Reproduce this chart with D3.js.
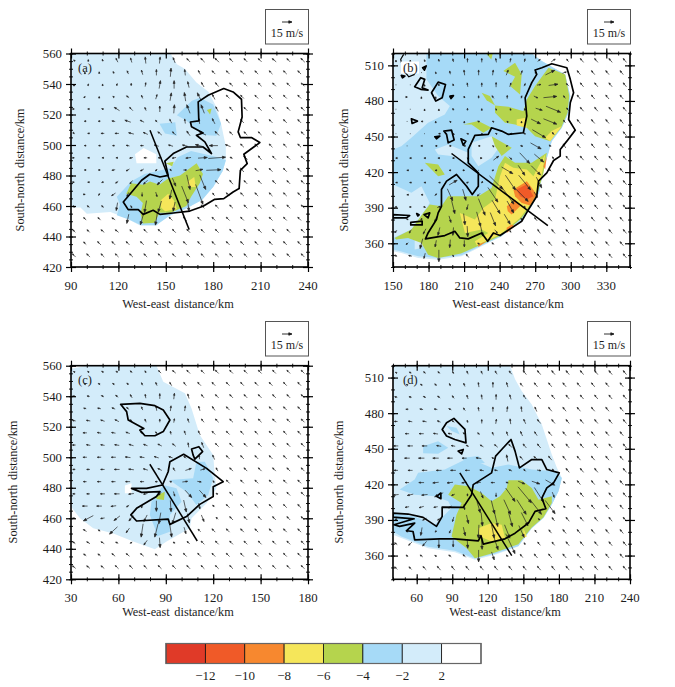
<!DOCTYPE html>
<html>
<head>
<meta charset="utf-8">
<script src="https://cdn.jsdelivr.net/npm/d3@7"></script>
<style>
body { margin: 0; background: #fff; }
text { font-family: "Liberation Serif", serif; fill: #1c1c1c; }
</style>
</head>
<body>
<div id="chart"></div>
<script>
// shading levels (m/s), band 0 is the strongest
var levelLabels = ['\u221212', '\u221210', '\u22128', '\u22126', '\u22124', '\u22122', '2'];
var levelColors = ['#e03a28', '#f05a28', '#f7882f', '#f5e65a', '#b5d44d', '#a6daf7', '#d3ecfa', '#ffffff'];
var keySpeed = 15;

// ---- panel a: polygons in km
var paleA = [[90,560],[153,560],[157,553],[162,550],[169.4,541],[177,535],[182,525],[185,514],[188,499],[188,490],[186,483],[180,472.5],[171.5,464],[163,458],[150.5,453],[144,447],[134,447],[125,452],[115,456],[100,455],[96,459],[90,459]];
var holeA = [[[130.5,494],[136,498],[144,494],[144,488],[131.5,488]]];
var blueA = [
  [[157,519.5],[166.5,529],[171.5,531],[180,526.5],[185,514],[182,506],[173.5,506.5],[169.5,510],[163,516]],
  [[146,514],[156,515],[157,506],[149.5,507.5]],
  [[119,466],[128,476],[136.5,481],[153,485],[157.5,492],[166,496],[183,492],[188,490],[186,483],[180,472.5],[173,464],[165,459.5],[153,454],[144,447.5],[134,447.5],[127,451],[119,454],[121,461]]
];
var greenA = [
  [[125,468],[128,475],[135.5,474],[140,476],[146,474],[151.5,478],[159,480],[169.5,488],[173.5,481],[171.5,475],[166,466],[163,460],[153,455.5],[146,455.5],[143,449],[135.5,448.5],[134,455],[135.5,462],[131.5,466]],
  [[176,523],[179,524],[178,520]],
  [[150,488],[155,489],[154,486]]
];
var yellowA = [
  [[147,464],[151.5,468],[155,464],[157,458],[149.5,456.5],[147,459]],
  [[164,476],[168,479],[169,472.5],[164,472.5]]
];
var outlineA = [
  [[123.1,462.6],[126.2,457.6],[132.6,457.6],[135.7,454.5],[142,457.2],[146.3,454.5],[154.7,455.4],[165.2,456.7],[173.6,459.8],[181,464.4],[186.7,464.8],[192.6,469.2],[196.4,471.4],[197.2,483.4],[201.5,487.8],[199.4,493.9],[209.5,501.6],[204.2,504.9],[197.2,504.9],[195.8,508.6],[198.3,518.4],[197.9,530],[192.6,534.8],[186.7,537],[176.8,532.6],[170.5,528.3],[170.9,515.8],[165.6,515.1],[166.3,511.9],[173.6,507.9],[169.4,506.4],[174.7,502],[178.9,494.4],[173.6,498.7],[163.1,498.7],[154.7,494.4],[149.4,489.5],[151.5,480.1],[146.3,479],[139.9,480.8],[134.7,476.9],[129.4,470.3]]
];
var sectionA = [[140,509.7],[164.8,444.5]];

// ---- panel b
var paleB = [[150,520],[267.1,520],[275.6,513.7],[295.3,502.4],[299.6,484.1],[298.2,470],[292.5,457.4],[284,446.1],[281.2,436.3],[277,422.2],[273.3,402.5],[267.1,391.2],[258.6,380],[241.7,365.9],[222,356],[207.9,349],[188.1,346.2],[171.2,347.6],[157,351.9],[150,353.3]];
var blueB = [
  [[178.2,520],[267.1,520],[275.6,513.7],[295.3,502.4],[299.6,484.1],[298.2,470],[292.5,457.4],[284,446.1],[281.2,436.3],[277,422.2],[273.3,402.5],[267.1,391.2],[258.6,380],[241.7,365.9],[222,356.8],[207.9,350],[188.1,347.5],[171.2,349],[157,353],[150,354.7],[150,439.1],[157,441.9],[165.5,449],[179.6,461.6],[193.7,468.6],[198,475.7],[188.1,484.1],[178.2,498.2],[178.2,509.4]]
];
var paleOverB = [
  [[185.3,439.1],[196.6,443.3],[213.5,436.3],[212.1,427.8],[199.4,433.5],[188.1,434.9]],
  [[216.3,444.7],[233.2,450.3],[241.7,443.9],[233.2,432.1],[222,425],[216.3,433.5]],
  [[150,409.5],[165.5,402.5],[174,408.1],[181,394],[175.4,385.6],[165.5,371.6],[150,364.5]],
  [[168.3,364.5],[178.2,363.1],[174,356],[168.3,354.7]]
];
var greenB = [
  [[151.4,364.5],[165.5,371.6],[175.4,385.6],[181,392.7],[190.9,391.2],[196.6,399.7],[210.7,399.7],[222,399.7],[233.2,406.7],[238.9,425],[244.5,433.5],[253,427.8],[267.1,427.8],[279.8,436.3],[277,419.4],[272.2,403.1],[266.5,391.8],[258.1,380.6],[241.2,366.5],[221.4,357.5],[207.3,351.3],[188.1,347.6],[179.6,350.4],[174,360.3],[162.7,364.5],[152.8,363.1]],
  [[262.9,481.3],[269.9,492.6],[281.2,508],[295.3,502.4],[298.7,484.1],[297.3,470],[291.9,457.4],[282.6,446.1],[269.9,450.3],[262.9,457.4],[253,460.2],[244.5,461.6],[236.1,470],[236.1,476.2],[247.4,475.1],[260,471.4]],
  [[243.1,505.2],[253,512.3],[258.6,502.4],[257.2,485.5],[248.8,492.6],[253,500.4]],
  [[209.3,460.2],[222,463],[233.2,457.4],[226.2,453.2],[216.3,460.2]],
  [[233.2,450.3],[250.2,440.5],[241.7,433.5],[236.1,441.9]],
  [[176.8,427.8],[188.1,426.4],[193.7,418],[188.1,416.6],[182.5,422.2]],
  [[228.7,520],[234.2,520],[232.9,515]],
  [[224.8,486.9],[231.8,484.1],[236.1,476.2],[229,480.5]]
];
var yellowB = [
  [[206.4,385.6],[219.1,380],[226.2,389.8],[236.1,396.9],[240.3,416.6],[244.5,427.8],[251.6,423.6],[262.9,422.2],[268.5,416.6],[272.8,425],[278.4,434.9],[276.1,420.8],[271.3,403.1],[265.7,392.7],[257.2,381.4],[240.3,367.3],[220.6,358.3],[219.1,361.7],[230.4,368.7],[224.8,371.6],[210.7,368.7]],
  [[284,454.6],[292.5,458.8],[282.6,446.1],[278.4,448.9]],
  [[254.4,464.4],[261.5,465.8],[262.9,457.4],[254.4,459.4]]
];
var orangeB = [
  [[251.6,405.3],[262.9,412.4],[271.3,401.1],[265.7,391.8],[258.6,394],[253,399.7]],
  [[246,391.2],[253,396.9],[257.2,391.2],[250.2,384.2],[246.9,387]],
  [[245.9,373],[250.2,375.8],[253,374.4],[245.9,368.7]],
  [[222,358.9],[229,361.7],[222,356.9]],
  [[277,425],[279.8,433.5],[278.4,422.2]]
];
var deepB = [[[254.4,405.3],[262.9,409.7],[268.5,399.7],[262.9,396.9],[257.2,399.7]]];
var outlineB = [
  [[177.4,363.7],[193.7,366.5],[202.2,370.1],[206.4,364.5],[213.5,363.7],[224.8,368.7],[229.9,361.7],[234.7,368.7],[240.3,366.5],[250.2,373],[258.6,378.6],[264.3,388.4],[271.3,399.7],[272.8,412.4],[279.8,419.4],[285.5,429.8],[291.1,433.5],[291.1,439.1],[296.7,446.1],[303.8,455.4],[298.2,464.4],[299.6,478.5],[302.4,486.9],[299.6,498.2],[296.7,508],[284,511.4],[275.6,508],[269.9,506.1],[271.3,502.4],[267.1,495.4],[261.5,482.7],[262.9,467.2],[260,453.2],[247.4,451.8],[241.7,454.6],[233.2,457.4],[230.4,451.8],[219.1,450.9],[213.5,439.1],[213.5,427.8],[222,419.4],[222,408.1],[216.9,401.1],[212.1,408.1],[203.6,418],[195.2,412.4],[190.9,405.3],[190.9,391.2],[188.1,385.6],[186.7,380],[179.6,368.7]],
  [[182.5,486.9],[188.1,495.9],[194.3,493.9],[191.5,482.7],[186.1,479.9]],
  [[168.3,492],[173.4,499.6],[176.8,498.2],[174.6,491.1],[179.6,489.2],[173.4,489.8]],
  [[165.5,465],[170.6,463],[166.1,461]],
  [[185.3,449.8],[189.5,450.3],[186.7,448.1]],
  [[192.9,454.6],[199.4,455.4],[201.6,447],[196.6,444.7],[195.2,451.8]],
  [[207.3,448.1],[211.5,446.1],[209.3,442.7]],
  [[150,384.2],[164.1,383.4],[161.4,381.4],[150,381.4]],
  [[165,377.7],[174.6,378.6],[174.6,375.5],[165,375.5]],
  [[176.2,384.2],[181,385.6],[179.6,381.4]],
  [[157,501.5],[160,501],[158,499.5]],
  [[175,508],[178,509.5],[176.5,506]],
  [[198,484],[201,484.5],[199,482]],
  [[170,385],[172,384],[171,383]]
];
var openB = [[[159,519.3],[156.5,515.1],[158.5,506.6],[163.3,500.4],[168.3,502.4]]];
var sectionB = [[199.4,435.7],[280.7,374.9]];

// ---- panel c
var paleC = [[30,558],[40,560],[84.1,560],[88.4,549.5],[102.1,541.9],[106.3,532],[111.5,514.6],[120,501.5],[121,488.4],[122.1,479.6],[115.8,469.8],[106.3,460],[105.2,453.4],[90.5,444.7],[83.1,439.7],[69.4,444.7],[56.8,450.1],[44.1,453.4],[35.7,460],[30,467.6]];
var holeC = [[[64.1,481.4],[68.3,482.9],[68.3,476.4],[64.1,476.4]]];
var blueC = [
  [[92.6,485.1],[107.3,486.2],[109.4,497.1],[114.7,497.1],[120,486.2],[116.8,475.3],[109.4,468.7],[103.1,477.4],[96.8,481.8]],
  [[88.4,481.8],[96.8,479.6],[100,470.9],[92.6,462.2],[92.6,451.2],[84.2,448],[83.1,453.4],[79.9,462.2],[80.9,470.9]]
];
var greenC = [[[83.7,474.8],[89.4,477.4],[88.8,472],[84.2,472.6]]];
var outlineC = [
  [[68.3,479.6],[74.7,477],[86.3,477.4],[84.1,474.2],[71.5,466.5],[67.9,462.2],[71.5,458.2],[91.5,459.5],[92.6,456],[103.1,461.1],[111.5,469.1],[120,474.2],[120,480.7],[126.3,484],[115.8,492.7],[101.3,501.9],[92.6,497.1],[91.5,490.5],[87.9,481.8],[77.8,479.6]],
  [[61.4,534.7],[73.6,535.3],[83.1,533.8],[88.4,531],[92.6,524.4],[88.4,516.8],[83.1,514.1],[76.8,514.1],[73.6,517.8],[76.1,518.9],[66.2,524.4],[65.2,529.9]],
  [[106.3,505.4],[110.9,506.9],[113.3,503.7],[108.4,498.8],[107.3,501.4]]
];
var sectionC = [[79.9,495.4],[109.9,445.1]];

// ---- panel d
var paleD = [[40,520],[138.8,520],[143,508.6],[148.6,498.7],[157.1,487.4],[165.6,470.5],[174,445.2],[178.3,433.9],[182.5,425.4],[179.7,414.2],[174,402.9],[167,391.6],[157.1,383.1],[145.8,367.6],[126.1,360.6],[109.1,356.4],[92.2,362.8],[69.6,366.2],[47,374.7],[40,377.5]];
var blueD = [
  [[45.6,415.6],[58.3,424],[61.2,429.7],[83.7,432.5],[103.5,442.3],[123.2,433.9],[137.4,436.7],[157.1,432.5],[176.9,431.1],[182.5,425.4],[179.7,414.2],[174,402.9],[167,391.6],[157.1,383.1],[145.8,368],[126.1,361.5],[109.1,357.5],[92.2,364],[69.6,367.5],[47,376],[40,380.3],[40,395.8],[58.3,393],[75.3,386],[83.7,394.4],[89.4,400],[86.6,405.7],[75.3,409.9],[58.3,411.3]],
  [[65.4,452.2],[78.1,456.4],[86.6,450.8],[78.1,445.7],[65.4,446.3]],
  [[85.2,469.1],[93.6,467.7],[96.4,462.1],[89.4,464.9]],
  [[97.9,442.3],[112,443.8],[117.6,438.1],[103.5,436.7]]
];
var greenD = [[[92.2,419.8],[103.5,418.4],[114.8,412.7],[123.2,405.7],[130.3,409.9],[136,417],[137.4,423.5],[148.6,423.5],[157.1,417],[162.8,407.1],[174,409.9],[174,404.3],[167,392.2],[157.1,383.7],[145.8,369.6],[126.1,362.6],[109.1,357.8],[102.1,366.2],[89.4,376.1],[93.6,394.4],[97.9,404.3],[86.6,411.3]]];
var yellowD = [
  [[112,383.1],[123.2,387.4],[131.7,386],[134.5,374.7],[123.2,371.9],[113.4,376.1]],
  [[150,383.1],[152.9,376.1],[150,374.7]]
];
var outlineD = [
  [[40,395.8],[52.7,395],[65.4,392.2],[76.7,384.6],[81.5,393],[81.5,400.9],[99.3,400.6],[106.3,411.3],[107.7,419.8],[123.2,429.7],[126.6,443.8],[131.7,449.4],[139.6,457.8],[143,448],[146.7,433.9],[157.1,440.9],[165.6,440.9],[169.8,432.5],[180.3,429.7],[175.5,421.2],[169.8,417],[165.6,408.5],[169,399.5],[159.9,397.2],[154.3,387.4],[143,378.9],[134.5,374.1],[116.2,369.6],[114.2,376.9],[112,372.4],[92.2,374.1],[79.5,374.1],[58.3,373.3],[56.9,380.3],[51.3,380.9],[58.3,387.4],[45.6,384.6],[40.8,386],[57.8,391],[40,392.4]],
  [[81.5,466.3],[85.2,471.9],[91.4,475.6],[100.7,466.3],[101.6,455],[92.2,457.8],[85.2,460.7]],
  [[95,448],[99.3,449.4],[97.9,445.7]],
  [[76.7,409.9],[80.4,412.7],[80.4,407.9]]
];
var sectionD = [[96.4,429.7],[140.2,360]];

// ---- wind components in m/s, rows from the top, rows are staggered
var windA_u = [
  [-1,0,-1,-3,-2,-1,1,-3,-5,-6,-6,-5,-5,-5,-6,-5,-6],
  [0,0,-1,-2,-2,0,1,-1,-3,-5,-5,-5,-5,-5,-5,-5],
  [0,1,0,1,0,1,2,0,-2,-4,-5,-5,-5,-5,-5,-5,-5],
  [1,0,-2,-4,-2,2,2,-2,-6,-4,-5,-5,-5,-5,-5,-5],
  [1,-2,-3,-8,-5,-2,0,1,-5,-5,-4,-5,-5,-5,-5,-5,-5],
  [-2,-3,-5,-9,-6,-3,-3,-1,-1,-4,-5,-5,-5,-5,-5,-5],
  [1,-2,-5,-6,-8,-7,-6,-5,-5,-10,-6,-5,-5,-5,-5,-5,-5],
  [-2,-2,-3,-5,-5,-7,-7,-8,-12,-13,-8,-5,-5,-5,-5,-5],
  [1,-2,-2,-3,-5,-5,-5,-6,-8,14,26,-4,-6,-5,-5,-5,-5],
  [-2,-3,-5,-5,-5,-3,2,5,11,22,-4,-5,-5,-5,-5,-5],
  [1,-2,-3,-4,-4,-6,-8,5,5,9,-5,-5,-5,-5,-5,-5,-5],
  [1,-2,-6,-3,0,2,-3,10,11,-3,-5,-5,-5,-5,-5,-5],
  [-2,-3,-3,-2,2,-3,-5,-3,2,-5,-5,-5,-5,-5,-5,-5,-5],
  [-4,-4,-5,-3,-5,-3,-5,-5,-5,-5,-5,-5,-5,-5,-5,-5],
  [-4,-4,-5,-5,-4,-5,-5,-5,-5,-5,-5,-5,-5,-5,-5,-5,-5],
  [-4,-5,-5,-5,-5,-5,-5,-5,-5,-5,-5,-5,-5,-5,-5,-5],
  [-5,-5,-5,-5,-5,-5,-5,-5,-5,-5,-5,-5,-5,-5,-5,-5,-5]
];
var windA_v = [
  [1,2,3,6,7,10,10,8,5,6,6,5,5,5,5,5,6],
  [1,2,3,5,7,9,13,9,6,5,5,5,5,5,5,5],
  [1,2,2,3,4,6,12,12,9,7,6,5,5,5,5,5,5],
  [1,1,2,3,5,7,12,13,12,8,5,5,5,5,5,5],
  [0,0,1,5,5,5,9,13,13,13,7,6,5,5,5,5,5],
  [0,0,1,3,3,3,6,7,8,8,6,5,5,5,5,5],
  [-1,0,0,0,2,3,5,5,7,5,6,5,5,5,5,5,5],
  [0,0,0,1,0,2,2,2,3,0,3,5,5,5,5,5],
  [0,0,0,0,-1,0,0,-1,-1,1,2,2,5,6,5,5,5],
  [0,0,-1,-3,-3,-3,-2,0,2,1,4,6,5,5,5,5],
  [0,0,-1,-3,-5,-6,-8,-12,-22,-22,5,6,5,5,5,5,5],
  [0,-3,-4,-6,-6,-7,-14,-25,-30,4,5,5,5,5,5,5],
  [3,3,3,-12,-4,-18,-17,-14,-14,5,5,5,5,5,5,5,5],
  [4,4,3,-14,-18,-19,5,6,5,5,5,5,5,5,5,5],
  [4,4,4,4,4,5,5,5,5,5,5,5,5,5,5,5,5],
  [4,5,5,5,5,5,5,5,5,5,5,5,5,5,5,5],
  [5,5,5,5,5,5,5,5,5,5,5,5,5,5,5,5,5]
];
var windB_u = [
  [0,0,-1,-1,-1,0,0,-1,1,1,4,6,-3,-5,-5,-5,-5],
  [0,0,-1,-1,-1,0,1,3,2,3,14,6,-5,-5,-5,-5],
  [0,0,0,-1,-1,-1,0,0,2,2,6,14,-4,-5,-5,-5,-5],
  [1,0,0,-1,-1,0,-3,0,1,6,20,-3,-5,-5,-5,-5],
  [0,0,0,0,-1,0,0,-1,-1,-1,10,22,-3,-5,-5,-5,-5],
  [0,-1,0,-1,0,-3,-2,-1,0,14,20,-3,-5,-5,-5,-5],
  [0,0,0,-1,-1,-2,-1,-2,-1,3,20,-3,-4,-5,-5,-5,-5],
  [0,-2,-1,-2,-2,-1,-1,2,4,16,-3,-4,-5,-5,-5,-5],
  [-1,-2,-2,-3,-2,-1,1,8,4,15,14,-3,-5,-5,-5,-5,-5],
  [-1,-2,-2,-3,1,0,3,17,10,14,-3,-4,-5,-5,-5,-5],
  [-1,-2,-2,-1,12,3,-1,20,15,18,8,-3,-4,-5,-5,-5,-5],
  [-1,-1,3,8,5,-4,15,20,20,5,-4,-4,-5,-5,-5,-5],
  [-3,-3,3,5,5,-2,10,12,10,-2,-4,-4,-5,-5,-5,-5,-5],
  [-2,-2,-3,3,2,6,8,9,-2,-4,-5,-5,-5,-5,-5,-5],
  [-3,-3,-4,-3,-1,1,3,4,-2,-4,-4,-5,-5,-5,-5,-5,-5],
  [-3,-4,-2,-1,0,-3,-3,-4,-5,-5,-5,-5,-5,-5,-5,-5],
  [-3,-5,-2,0,-2,-4,-4,-5,-5,-5,-5,-5,-5,-5,-5,-5,-5]
];
var windB_v = [
  [1,1,2,4,5,6,6,6,6,5,3,4,4,6,6,6,6],
  [0,0,2,5,8,8,8,8,6,1,7,2,6,6,6,6],
  [0,0,1,3,3,6,6,7,6,4,1,2,4,6,6,6,6],
  [0,1,1,0,3,4,4,5,4,-3,2,4,6,6,6,6],
  [0,0,1,1,3,3,2,2,2,2,-3,-9,4,6,6,6,6],
  [0,0,1,1,1,1,1,1,1,-7,-8,4,6,6,6,6],
  [0,0,0,0,1,1,1,1,0,-1,-12,4,6,6,6,6,6],
  [0,0,0,0,0,0,1,1,-1,-9,3,6,6,6,6,6],
  [0,0,0,0,0,1,0,6,-4,-16,-12,4,6,6,6,6,6],
  [0,0,0,0,0,0,1,-10,-15,-14,3,5,6,6,6,6],
  [0,0,0,0,7,1,-1,-20,-22,-22,-16,3,6,6,6,6,6],
  [0,0,3,-18,-17,-4,-22,-28,-20,-8,5,6,6,6,6,6],
  [0,0,-1,2,-20,-8,-25,-20,-18,3,5,6,6,6,6,6,6],
  [1,-2,-8,-10,-17,-22,-20,-15,3,5,6,6,6,6,6,6],
  [-4,-5,-8,-12,-12,-16,-14,-5,3,5,6,6,6,6,6,6,6],
  [-3,-15,-10,-12,-10,2,3,5,6,6,6,6,6,6,6,6],
  [3,1,-8,-18,2,5,5,6,6,6,6,6,6,6,6,6,6]
];
var windC_u = [
  [-2,-2,-3,-3,-3,-2,-4,-5,-5,-5,-5,-5,-5,-5,-5,-5,-5],
  [-3,-3,-3,-3,-2,-2,-3,-4,-5,-5,-5,-5,-5,-5,-5,-5],
  [-4,-4,-4,-4,-3,-1,0,1,-2,-4,-5,-5,-5,-5,-5,-5,-5],
  [-4,-5,-5,-4,-2,-1,1,1,-2,-4,-5,-5,-5,-5,-5,-5],
  [-5,-6,-6,-6,-4,-2,0,1,-2,-4,-5,-5,-5,-5,-5,-5,-5],
  [-6,-6,-6,-6,-5,-3,-1,-2,-3,-5,-5,-5,-5,-5,-5,-5],
  [-5,-6,-6,-7,-7,-6,-6,-5,-1,-3,-5,-5,-5,-5,-5,-5,-5],
  [-6,-6,-7,-8,-7,-7,-6,-4,-1,-3,-5,-5,-5,-5,-5,-5],
  [-4,-5,-6,-8,-8,-7,-6,-3,9,7,-3,-5,-5,-5,-5,-5,-5],
  [-5,-6,-6,-7,-6,-4,-3,8,6,-2,-5,-5,-5,-5,-5,-5],
  [-4,-5,-7,-8,-8,-6,-4,2,10,10,-3,-5,-5,-5,-5,-5,-5],
  [-8,-8,-8,-4,-2,0,1,4,2,-3,-5,-5,-5,-5,-5,-5],
  [-4,-15,-6,-9,-7,-5,-3,-5,3,4,-3,-5,-5,-5,-5,-5,-5],
  [-5,-3,-12,-5,-3,-5,3,3,-4,-5,-5,-5,-5,-5,-5,-5],
  [-4,-5,-5,-4,-3,-5,1,-3,-4,-5,-5,-5,-5,-5,-5,-5,-5],
  [-4,-4,-5,-5,-5,-4,-4,-5,-5,-5,-5,-5,-5,-5,-5,-5],
  [-5,-5,-5,-5,-5,-5,-5,-5,-5,-5,-5,-5,-5,-5,-5,-5,-5]
];
var windC_v = [
  [1,2,2,2,3,3,4,4,5,5,5,5,5,5,5,5,5],
  [1,2,2,3,4,5,5,5,5,5,5,5,5,5,5,5],
  [1,1,2,3,5,6,8,9,7,5,5,5,5,5,5,5,5],
  [1,1,2,3,5,7,8,8,7,6,5,5,5,5,5,5],
  [1,1,2,3,3,5,5,6,6,5,5,5,5,5,5,5,5],
  [0,1,1,2,2,3,5,6,6,5,5,5,5,5,5,5],
  [0,1,1,1,2,2,3,4,7,8,5,5,5,5,5,5,5],
  [0,0,0,1,1,2,2,3,6,7,5,5,5,5,5,5],
  [0,0,0,0,1,2,3,5,3,2,5,5,5,5,5,5,5],
  [0,0,0,0,0,0,1,1,-1,3,5,5,5,5,5,5],
  [0,0,0,0,-1,-1,-4,-7,-11,-11,2,5,5,5,5,5,5],
  [0,0,-1,-3,-6,-16,-17,-18,-9,3,5,5,5,5,5,5],
  [1,-8,-1,-7,-8,-10,-17,-17,-14,-10,3,5,5,5,5,5,5],
  [3,2,-11,-7,-20,-20,-20,-10,4,5,5,5,5,5,5,5],
  [3,3,3,2,-2,-7,-15,2,4,5,5,5,5,5,5,5,5],
  [3,3,4,4,4,3,3,5,5,5,5,5,5,5,5,5],
  [4,4,4,5,5,5,5,5,5,5,5,5,5,5,5,5,5]
];
var windD_u = [
  [-2,-3,-3,-3,-2,-2,-2,-3,-4,-5,-5,-5,-5,-5,-5,-5,-5],
  [-3,-3,-3,-2,-2,-1,0,-2,-4,-5,-5,-5,-5,-5,-5,-5],
  [-4,-4,-4,-4,-3,-2,-1,0,-2,-4,-5,-5,-5,-5,-5,-5,-5],
  [-4,-5,-5,-4,-3,-1,0,1,-1,-3,-5,-5,-5,-5,-5,-5],
  [-5,-6,-6,-5,-3,-1,0,1,-1,-3,-5,-5,-5,-5,-5,-5,-5],
  [-6,-7,-7,-6,-4,-3,-2,-2,-3,-4,-5,-5,-5,-5,-5,-5],
  [-7,-8,-8,-7,-6,-4,-5,-5,-5,-5,-5,-5,-5,-5,-5,-5,-5],
  [-8,-9,-9,-8,-7,-8,-3,-2,-5,-6,-5,-5,-5,-5,-5,-5],
  [-6,-7,-8,-8,-8,-7,-6,-5,-5,-3,6,-3,-5,-5,-5,-5,-5],
  [-6,-8,-9,-9,-8,-7,-6,-4,10,12,14,-3,-5,-5,-5,-5],
  [-8,-9,-9,-13,-5,0,4,0,14,20,14,3,-4,-5,-5,-5,-5],
  [-6,-7,-6,-5,1,5,5,10,14,17,15,-3,-5,-5,-5,-5],
  [-3,-5,-6,-4,-2,3,2,5,6,10,-2,-4,-5,-5,-5,-5,-5],
  [-3,-2,-2,-2,3,-1,4,8,8,-3,-4,-5,-5,-5,-5,-5],
  [-4,-5,-6,0,0,1,1,6,14,-2,-4,-4,-5,-5,-5,-5,-5],
  [-3,-4,-3,-4,-4,0,4,-3,-4,-5,-5,-5,-5,-5,-5,-5],
  [-4,-4,-5,-5,-5,-5,-5,-5,-5,-5,-5,-5,-5,-5,-5,-5,-5]
];
var windD_v = [
  [1,2,3,3,4,5,5,5,5,6,6,6,6,6,6,6,6],
  [1,2,3,4,5,7,8,7,5,6,6,6,6,6,6,6],
  [1,1,2,3,4,6,7,8,7,6,6,6,6,6,6,6,6],
  [0,1,1,2,4,6,7,8,8,7,6,6,6,6,6,6],
  [0,1,1,2,3,4,6,7,8,7,6,6,6,6,6,6,6],
  [0,0,1,1,3,3,5,6,7,6,6,6,6,6,6,6],
  [0,0,0,1,1,2,3,4,5,6,6,6,6,6,6,6,6],
  [0,0,0,0,0,1,2,10,5,5,6,6,6,6,6,6],
  [0,0,0,0,0,0,1,1,2,3,-1,4,6,6,6,6,6],
  [0,0,-1,-1,-1,-1,0,1,-4,-4,-8,3,6,6,6,6],
  [-1,-2,-1,-6,-2,-4,-10,-6,-20,-24,-22,-8,4,6,6,6,6],
  [-1,-2,-1,-3,-8,-17,-20,-22,-22,-22,-20,3,6,6,6,6],
  [-1,-2,-3,-3,-7,-13,-20,-22,-22,-20,2,5,6,6,6,6,6],
  [2,-12,-2,-5,-13,-20,-20,-20,-18,4,5,6,6,6,6,6],
  [3,-5,-7,-13,-10,-14,-17,-18,-30,3,5,5,6,6,6,6,6],
  [3,3,2,3,4,-18,-12,3,5,6,6,6,6,6,6,6],
  [4,4,5,6,6,6,6,6,6,6,6,6,6,6,6,6,6]
];

var width = 675;
var height = 687;
var svg = d3.select('#chart').append('svg').attr('width', width).attr('height', height);

var defs = svg.append('defs');

// layout table for the four panels, built from the arrays above
var panels = [
  { id: 'a', label: '(a)', xd: [90, 240], yd: [420, 560], xt: d3.range(90, 241, 30), yt: d3.range(420, 561, 20), xm: 10, ym: 5,
    box: [71, 53.5, 308, 267], grid: [91.9, 98.8, 9.05, 555.6, 8], u: windA_u, v: windA_v, pale: [paleA], paleOver: [], holes: holeA,
    blue: blueA, green: greenA, yellow: yellowA, orange: [], deep: [], outline: outlineA, open: [], section: sectionA,
    yTitle: [20, 170], xTitle: [178, 308], key: [265, 9], labelX: 78, labelBg: false },
  { id: 'b', label: '(b)', xd: [150, 350], yd: [340, 520], xt: d3.range(150, 331, 30), yt: d3.range(360, 511, 30), xm: 10, ym: 10,
    box: [393, 53.5, 630, 267], grid: [152.5, 161.9, 12.07, 514.2, 10.3], u: windB_u, v: windB_v, pale: [paleB], paleOver: paleOverB, holes: [],
    blue: blueB, green: greenB, yellow: yellowB, orange: orangeB, deep: deepB, outline: outlineB, open: openB, section: sectionB,
    yTitle: [344, 170], xTitle: [508, 308], key: [587, 9], labelX: 403, labelBg: true },
  { id: 'c', label: '(c)', xd: [30, 180], yd: [420, 560], xt: d3.range(30, 181, 30), yt: d3.range(420, 561, 20), xm: 10, ym: 5,
    box: [71, 365.7, 308, 579.3], grid: [31.9, 38.8, 9.05, 556, 8], u: windC_u, v: windC_v, pale: [paleC], paleOver: [], holes: holeC,
    blue: blueC, green: greenC, yellow: [], orange: [], deep: [], outline: outlineC, open: [], section: sectionC,
    yTitle: [12.7, 482], xTitle: [178, 616], key: [265, 321], labelX: 78, labelBg: false },
  { id: 'd', label: '(d)', xd: [40, 240], yd: [340, 520], xt: d3.range(60, 241, 30), yt: d3.range(360, 511, 30), xm: 10, ym: 10,
    box: [393, 365.7, 630, 579.3], grid: [42.5, 51.9, 12.07, 514.2, 10.3], u: windD_u, v: windD_v, pale: [paleD], paleOver: [], holes: [],
    blue: blueD, green: greenD, yellow: yellowD, orange: [], deep: [], outline: outlineD, open: [], section: sectionD,
    yTitle: [338.5, 482], xTitle: [505, 616], key: [587, 321], labelX: 403, labelBg: false }
];

var speedPx = 10 / keySpeed; // the 15 m/s key arrow is 10 px long

// one wind arrow, tail to tip, centred on its grid point
function arrowPath(cx, cy, dx, dy) {
    var len = Math.sqrt(dx * dx + dy * dy);
    if (len < 0.3) {
        return 'M' + (cx - 0.4) + ',' + cy + 'L' + (cx + 0.4) + ',' + cy;
    }
    var ux = dx / len, uy = dy / len;
    var tipX = cx + dx / 2, tipY = cy + dy / 2;
    var headLen = Math.min(3.2, Math.max(1.6, len * 0.35));
    var w = Math.min(1.2, Math.max(0.6, len * 0.12));
    var baseX = tipX - ux * headLen, baseY = tipY - uy * headLen;
    return 'M' + (cx - dx / 2) + ',' + (cy - dy / 2) + 'L' + baseX + ',' + baseY +
        'M' + tipX + ',' + tipY +
        'L' + (baseX - uy * w) + ',' + (baseY + ux * w) +
        'L' + (baseX + uy * w) + ',' + (baseY - ux * w) + 'Z';
}

function drawPanel(p) {
    var x = d3.scaleLinear().domain(p.xd).range([p.box[0], p.box[2]]);
    var y = d3.scaleLinear().domain(p.yd).range([p.box[3], p.box[1]]);
    var line = d3.line().x(function (d) { return x(d[0]); }).y(function (d) { return y(d[1]); });
    var closed = d3.line().x(function (d) { return x(d[0]); }).y(function (d) { return y(d[1]); }).curve(d3.curveLinearClosed);

    defs.append('clipPath').attr('id', 'clip-' + p.id).append('rect')
        .attr('x', p.box[0]).attr('y', p.box[1])
        .attr('width', p.box[2] - p.box[0]).attr('height', p.box[3] - p.box[1]);

    var g = svg.append('g').attr('class', 'panel-' + p.id);
    var plot = g.append('g').attr('clip-path', 'url(#clip-' + p.id + ')');

    // shaded bands, weakest first
    var bands = [
        [p.pale, levelColors[6]], [p.holes, levelColors[7]], [p.blue, levelColors[5]], [p.paleOver, levelColors[6]],
        [p.green, levelColors[4]], [p.yellow, levelColors[3]], [p.orange, levelColors[2]], [p.deep, levelColors[1]]
    ];
    bands.forEach(function (b) {
        plot.selectAll(null).data(b[0]).enter().append('path')
            .attr('d', closed)
            .attr('fill', b[1])
            .attr('stroke', 'none');
    });

    // wind vectors
    var arrows = [];
    p.u.forEach(function (row, i) {
        var x0 = i % 2 === 0 ? p.grid[0] : p.grid[1];
        row.forEach(function (u, j) {
            arrows.push({ x: x0 + j * p.grid[2], y: p.grid[3] - i * p.grid[4], u: u, v: p.v[i][j] });
        });
    });
    plot.selectAll('.wind').data(arrows).enter().append('path')
        .attr('class', 'wind')
        .attr('d', function (d) {
            return arrowPath(x(d.x), y(d.y), d.u * speedPx, -d.v * speedPx);
        })
        .attr('fill', '#222')
        .attr('stroke', '#222')
        .attr('stroke-width', 0.7);

    // contour outline and section line
    plot.selectAll('.outline').data(p.outline).enter().append('path')
        .attr('class', 'outline')
        .attr('d', closed)
        .attr('fill', 'none')
        .attr('stroke', '#000')
        .attr('stroke-width', 1.7)
        .attr('stroke-linejoin', 'round');
    plot.selectAll('.open').data(p.open).enter().append('path')
        .attr('class', 'open')
        .attr('d', line)
        .attr('fill', 'none')
        .attr('stroke', '#000')
        .attr('stroke-width', 1.2);
    plot.append('path')
        .attr('d', line(p.section))
        .attr('fill', 'none')
        .attr('stroke', '#000')
        .attr('stroke-width', 1.5);

    // frame
    g.append('rect')
        .attr('x', p.box[0]).attr('y', p.box[1])
        .attr('width', p.box[2] - p.box[0]).attr('height', p.box[3] - p.box[1])
        .attr('fill', 'none')
        .attr('stroke', '#000')
        .attr('stroke-width', 1.6);

    // minor ticks
    var xMinor = d3.range(p.xd[0], p.xd[1] + 0.1, p.xm);
    var yMinor = d3.range(p.yd[0], p.yd[1] + 0.1, p.ym);
    function ticksOn(sel, vertical, inner, outer, weight) {
        sel.selectAll('.tick line')
            .attr(vertical ? 'x1' : 'y1', -outer)
            .attr(vertical ? 'x2' : 'y2', inner)
            .attr('stroke', '#000')
            .attr('stroke-width', weight);
        sel.select('.domain').remove();
    }
    [[d3.axisBottom(x), p.box[3]], [d3.axisTop(x), p.box[1]]].forEach(function (a) {
        var m = g.append('g').attr('transform', 'translate(0,' + a[1] + ')')
            .call(a[0].tickValues(xMinor).tickFormat(''));
        ticksOn(m, false, 2, 2, 0.9);
        var M = g.append('g').attr('transform', 'translate(0,' + a[1] + ')')
            .call(a[0].tickValues(p.xt).tickFormat(''));
        ticksOn(M, false, 5, 5, 1.2);
    });
    [[d3.axisLeft(y), p.box[0]], [d3.axisRight(y), p.box[2]]].forEach(function (a) {
        var m = g.append('g').attr('transform', 'translate(' + a[1] + ',0)')
            .call(a[0].tickValues(yMinor).tickFormat(''));
        ticksOn(m, true, 2, 2, 0.9);
        var M = g.append('g').attr('transform', 'translate(' + a[1] + ',0)')
            .call(a[0].tickValues(p.yt).tickFormat(''));
        ticksOn(M, true, 5, 5, 1.2);
    });

    // tick labels
    g.selectAll('.xlab').data(p.xt).enter().append('text')
        .attr('x', function (d) { return x(d); })
        .attr('y', p.box[3] + 22.5)
        .attr('text-anchor', 'middle')
        .style('font-size', '12.8px')
        .text(function (d) { return d; });
    g.selectAll('.ylab').data(p.yt).enter().append('text')
        .attr('x', p.box[0] - 9)
        .attr('y', function (d) { return y(d) + 4.5; })
        .attr('text-anchor', 'end')
        .style('font-size', '12.8px')
        .text(function (d) { return d; });

    // titles
    g.append('text')
        .attr('x', p.xTitle[0]).attr('y', p.xTitle[1])
        .attr('text-anchor', 'middle')
        .style('font-size', '12.3px')
        .style('word-spacing', '1.5px')
        .text('West-east distance/km');
    g.append('text')
        .attr('transform', 'translate(' + p.yTitle[0] + ',' + p.yTitle[1] + ') rotate(-90)')
        .attr('dy', '0.35em')
        .attr('text-anchor', 'middle')
        .style('font-size', '12.3px')
        .style('word-spacing', '1.5px')
        .text('South-north distance/km');

    // panel letter
    if (p.labelBg) {
        g.append('rect')
            .attr('x', p.labelX - 2).attr('y', p.box[1] + 8)
            .attr('width', 18).attr('height', 12)
            .attr('fill', '#fff');
    }
    g.append('text')
        .attr('x', p.labelX).attr('y', p.box[1] + 18)
        .style('font-size', '12.5px')
        .text(p.label);

    // reference vector box
    var kx = p.key[0], ky = p.key[1];
    g.append('rect')
        .attr('x', kx + 0.5).attr('y', ky + 0.5)
        .attr('width', 43).attr('height', 34.5)
        .attr('fill', '#fff')
        .attr('stroke', '#555')
        .attr('stroke-width', 1);
    g.append('path')
        .attr('d', arrowPath(kx + 22, ky + 13, keySpeed * speedPx, 0))
        .attr('fill', '#1a1a1a')
        .attr('stroke', '#1a1a1a')
        .attr('stroke-width', 0.9);
    g.append('text')
        .attr('x', kx + 22).attr('y', ky + 28)
        .attr('text-anchor', 'middle')
        .style('font-size', '12px')
        .text(keySpeed + ' m/s');
}

panels.forEach(drawPanel);

// colour bar
var barScale = d3.scaleBand()
    .domain(d3.range(levelColors.length))
    .range([166, 481]);
var bar = svg.append('g').attr('class', 'colorbar');
bar.selectAll('rect').data(levelColors).enter().append('rect')
    .attr('x', function (d, i) { return barScale(i); })
    .attr('y', 643.5)
    .attr('width', barScale.bandwidth())
    .attr('height', 20)
    .attr('fill', function (d) { return d; })
    .attr('stroke', '#111')
    .attr('stroke-width', 0.8);
bar.append('rect')
    .attr('x', 166).attr('y', 643.5)
    .attr('width', 315).attr('height', 20)
    .attr('fill', 'none')
    .attr('stroke', '#666')
    .attr('stroke-width', 1.2);
bar.selectAll('text').data(levelLabels).enter().append('text')
    .attr('x', function (d, i) { return barScale(i + 1); })
    .attr('y', 680)
    .attr('text-anchor', 'middle')
    .style('font-size', '13px')
    .text(function (d) { return d; });
</script>
</body>
</html>
